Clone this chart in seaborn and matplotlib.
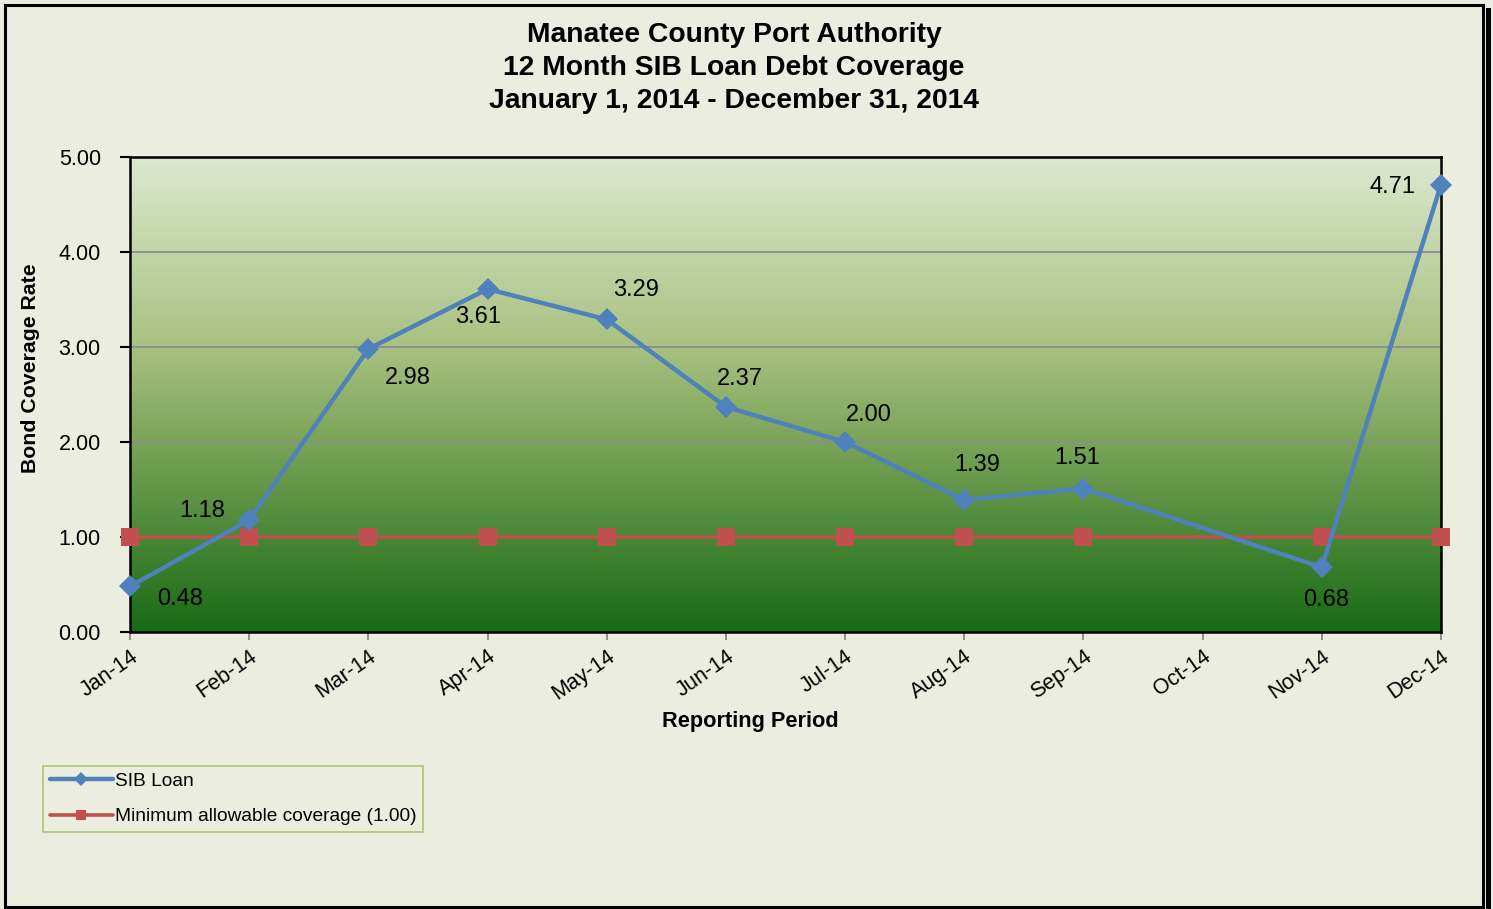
import numpy as np
import pandas as pd
import matplotlib
matplotlib.use("Agg")
import matplotlib.pyplot as plt
from matplotlib.colors import LinearSegmentedColormap
from matplotlib.patches import Rectangle
import seaborn as sns

months = ["Jan-14", "Feb-14", "Mar-14", "Apr-14", "May-14", "Jun-14",
          "Jul-14", "Aug-14", "Sep-14", "Oct-14", "Nov-14", "Dec-14"]
sib_loan = [0.48, 1.18, 2.98, 3.61, 3.29, 2.37, 2.00, 1.39, 1.51, np.nan, 0.68, 4.71]
min_cov = [1.00, 1.00, 1.00, 1.00, 1.00, 1.00, 1.00, 1.00, 1.00, np.nan, 1.00, 1.00]
title_lines = ["Manatee County Port Authority",
               "12 Month SIB Loan Debt Coverage",
               "January 1, 2014 - December 31, 2014"]
y_ticks = [0, 1, 2, 3, 4, 5]

sns.set_theme(style="white")
plt.rcParams["font.family"] = ["Liberation Sans", "DejaVu Sans"]
plt.rcParams["text.color"] = "black"
plt.rcParams["xtick.color"] = "black"
plt.rcParams["ytick.color"] = "black"
plt.rcParams["axes.labelcolor"] = "black"

bg = "#EBEEDE"
fig = plt.figure(figsize=(14.93, 9.09), dpi=100, facecolor=bg)
ax = fig.add_axes([130/1493, 1-632/909, (1441-130)/1493, (632-157)/909])

df = pd.DataFrame({"pos": np.arange(len(months)), "month": months,
                   "sib": sib_loan, "min": min_cov}).dropna()

# gradient background
cmap = LinearSegmentedColormap.from_list("g", [
    (0.0, (221/255, 232/255, 207/255)),
    (0.4, (168/255, 193/255, 128/255)),
    (0.6, (122/255, 164/255, 88/255)),
    (1.0, (24/255, 106/255, 20/255))])
grad = np.linspace(0, 1, 256).reshape(-1, 1)
ax.imshow(grad, cmap=cmap, aspect="auto", extent=(0, 11, 0, 5),
          origin="upper", zorder=0)

for yv in [1, 2, 3, 4]:
    ax.axhline(yv, color="#8C8C8C", lw=1.3, zorder=1)

sns.lineplot(data=df, x="pos", y="min", ax=ax, color="#C0504D", lw=2.6,
             marker="s", markersize=12.5, markeredgewidth=0, zorder=6,
             label="Minimum allowable coverage (1.00)", legend=False, clip_on=False)
sns.lineplot(data=df, x="pos", y="sib", ax=ax, color="#4F81BD", lw=3.2,
             marker="D", markersize=11, markeredgewidth=0, zorder=7,
             label="SIB Loan", legend=False, clip_on=False)

offsets = [(50, -13), (-47, 9), (39, -29), (-9, -28), (29, 29), (14, 28),
           (24, 27), (13, 35), (-6, 31), None, (4, -33), (-49, -2)]
for i, (v, off) in enumerate(zip(sib_loan, offsets)):
    if off is None or np.isnan(v):
        continue
    ax.annotate(f"{v:.2f}", (i, v), xytext=off, textcoords="offset pixels",
                ha="center", va="center", fontsize=17, color="black", zorder=8)

ax.set_xlim(0, 11)
ax.set_ylim(0, 5)
ax.set_xticks(range(len(months)))
ax.set_xticklabels(months, rotation=35, ha="right", rotation_mode="anchor",
                   fontsize=15.5)
ax.set_yticks(y_ticks)
ax.set_yticklabels([f"{t:.2f}" for t in y_ticks], fontsize=15.5)
ax.tick_params(axis="x", direction="out", length=6, width=1.2, color="#7F7F7F",
               pad=4, bottom=True)
ax.tick_params(axis="y", direction="out", length=7, width=1.5, color="black",
               pad=14, left=True)
for s in ax.spines.values():
    s.set_color("black")
    s.set_linewidth(1.8)
    s.set_zorder(5)

ax.set_xlabel("")
ax.set_ylabel("")
fig.text(750/1493, 1-722/909, "Reporting Period", ha="center", va="center",
         fontsize=15.7, fontweight="bold")
fig.text(31/1493, 1-368/909, "Bond Coverage Rate", rotation=90, ha="center",
         va="center", fontsize=15.3, fontweight="bold")

for txt, yp in zip(title_lines, [35, 68, 101]):
    fig.text(734/1493, 1-yp/909, txt, ha="center", va="center", fontsize=20.3,
             fontweight="bold")

h, l = ax.get_legend_handles_labels()
order = [l.index("SIB Loan"), l.index("Minimum allowable coverage (1.00)")]
leg = fig.legend([h[i] for i in order], [l[i] for i in order],
                 loc="lower left", bbox_to_anchor=(43/1493, 1-832/909),
                 frameon=True, fontsize=13.8, handlelength=3.3,
                 handletextpad=0.1, borderpad=0.35, labelspacing=0.95,
                 borderaxespad=0, fancybox=False)
leg.get_frame().set_edgecolor("#9BBB59")
leg.get_frame().set_linewidth(1.2)
leg.get_frame().set_facecolor(bg)
for lh in leg.legend_handles:
    lh.set_markersize(7)

# figure border with shadow
fig.patches.append(Rectangle((1486/1493, 0), 5/1493, 1-8/909, transform=fig.transFigure,
                             facecolor="black", edgecolor="none"))
fig.patches.append(Rectangle((5/1493, 2/909), 1478/1493, 1-7/909, transform=fig.transFigure,
                             facecolor="none", edgecolor="black", lw=2.2))

fig.savefig("out.png", dpi=100, facecolor=bg)
